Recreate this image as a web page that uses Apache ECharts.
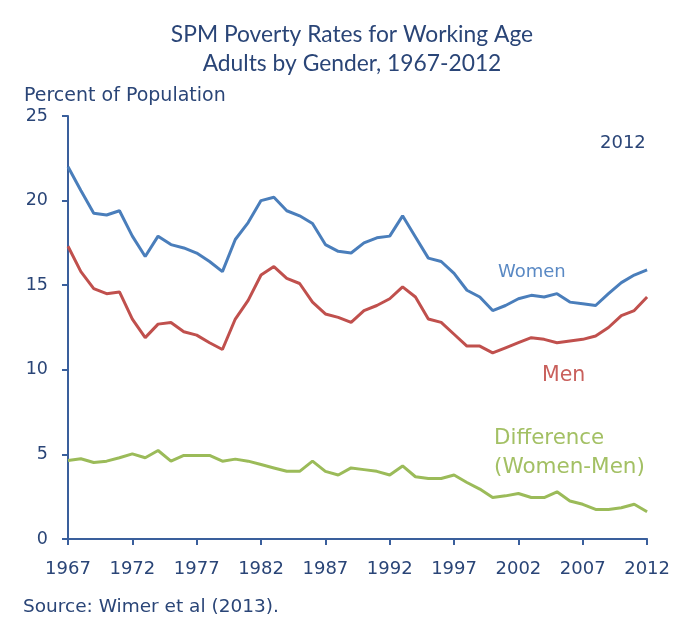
<!DOCTYPE html>
<html lang="en">
<head>
    <meta charset="UTF-8">
    <title>SPM Poverty Rates for Working Age Adults by Gender</title>
    <script src="https://cdn.jsdelivr.net/npm/echarts@6/dist/echarts.min.js"></script>
    <style>
        html, body { margin: 0; padding: 0; background: #fff; }
    </style>
</head>
<body>
    <div id="chart" style="width: 673px; height: 620px;"></div>

    <script>
        // Years on the x axis
        var years = [];
        for (var y = 1967; y <= 2012; y++) years.push(String(y));

        // Poverty rates
        var women = [22.0, 20.6, 19.25, 19.15, 19.4, 17.9, 16.7, 17.9, 17.4, 17.2,
                     16.9, 16.4, 15.8, 17.7, 18.7, 20.0, 20.2, 19.4, 19.1, 18.65,
                     17.4, 17.0, 16.9, 17.5, 17.8, 17.9, 19.1, 17.85, 16.6, 16.4,
                     15.7, 14.7, 14.3, 13.5, 13.8, 14.2, 14.4, 14.3, 14.5, 14.0,
                     13.9, 13.8, 14.5, 15.15, 15.6, 15.9];
        var men = [17.3, 15.8, 14.8, 14.5, 14.6, 13.0, 11.9, 12.7, 12.8, 12.25,
                   12.05, 11.6, 11.2, 13.0, 14.1, 15.6, 16.1, 15.4, 15.1, 14.0,
                   13.3, 13.1, 12.8, 13.5, 13.8, 14.2, 14.9, 14.3, 13.0, 12.8,
                   12.1, 11.4, 11.4, 11.0, 11.3, 11.6, 11.9, 11.8, 11.6, 11.7,
                   11.8, 12.0, 12.5, 13.2, 13.5, 14.3];
        var difference = [4.64, 4.74, 4.52, 4.6, 4.8, 5.03, 4.8, 5.23, 4.6, 4.94,
                          4.94, 4.94, 4.6, 4.72, 4.6, 4.4, 4.2, 4.0, 4.0, 4.6,
                          4.0, 3.78, 4.2, 4.1, 4.0, 3.78, 4.32, 3.68, 3.58, 3.58,
                          3.78, 3.34, 2.95, 2.45, 2.55, 2.69, 2.45, 2.45, 2.79, 2.25,
                          2.05, 1.75, 1.75, 1.85, 2.05, 1.61];

        var navy = '#2a4577';
        var axisBlue = '#3a5f9c';
        var titleFont = 'Lato, "Open Sans", sans-serif';
        var font = '"DejaVu Sans", Verdana, sans-serif';

        var chart = echarts.init(document.getElementById('chart'));

        function line(name, data, color) {
            return {
                name: name,
                type: 'line',
                data: data,
                symbol: 'none',
                lineStyle: { color: color, width: 3 },
                itemStyle: { color: color }
            };
        }

        // free text placed by its left edge and vertical middle
        function note(text, x, y, size, color) {
            return {
                type: 'text',
                x: x,
                y: y,
                style: { text: text, fill: color, font: size + 'px ' + font, verticalAlign: 'middle' }
            };
        }

        chart.setOption({
            animation: false,
            title: {
                text: 'SPM Poverty Rates for Working Age\nAdults by Gender, 1967-2012',
                left: 347,
                textAlign: 'center',
                top: 15,
                textStyle: { color: navy, fontSize: 22.8, fontWeight: 'normal', fontFamily: titleFont, lineHeight: 29 }
            },
            grid: { left: 68, right: 25, top: 116, bottom: 81 },
            xAxis: {
                type: 'category',
                data: years,
                boundaryGap: false,
                axisLine: { lineStyle: { color: axisBlue, width: 2 } },
                axisTick: { interval: 4, length: 6, lineStyle: { color: axisBlue, width: 2 } },
                axisLabel: { interval: 4, color: navy, fontSize: 18, fontFamily: font, margin: 21 }
            },
            yAxis: {
                type: 'value',
                min: 0,
                max: 25,
                interval: 5,
                axisLine: { show: true, lineStyle: { color: axisBlue, width: 2 } },
                axisTick: { show: true, length: 6, lineStyle: { color: axisBlue, width: 2 } },
                axisLabel: { color: navy, fontSize: 17.5, fontFamily: font, margin: 20 },
                splitLine: { show: false }
            },
            series: [
                line('Women', women, '#4a7ebb'),
                line('Men', men, '#c0504d'),
                line('Difference', difference, '#9bbb59')
            ],
            graphic: [
                note('Percent of Population', 24, 96, 19, navy),
                note('2012', 600, 143, 18, navy),
                note('Women', 498, 272, 18, '#5a89c4'),
                note('Men', 542, 376, 20.5, '#c9605c'),
                note('Difference', 494, 438, 21.4, '#a3c064'),
                note('(Women-Men)', 494, 467, 21.5, '#a3c064'),
                note('Source: Wimer et al (2013).', 23, 607, 18.5, navy)
            ]
        });
    </script>
</body>
</html>
